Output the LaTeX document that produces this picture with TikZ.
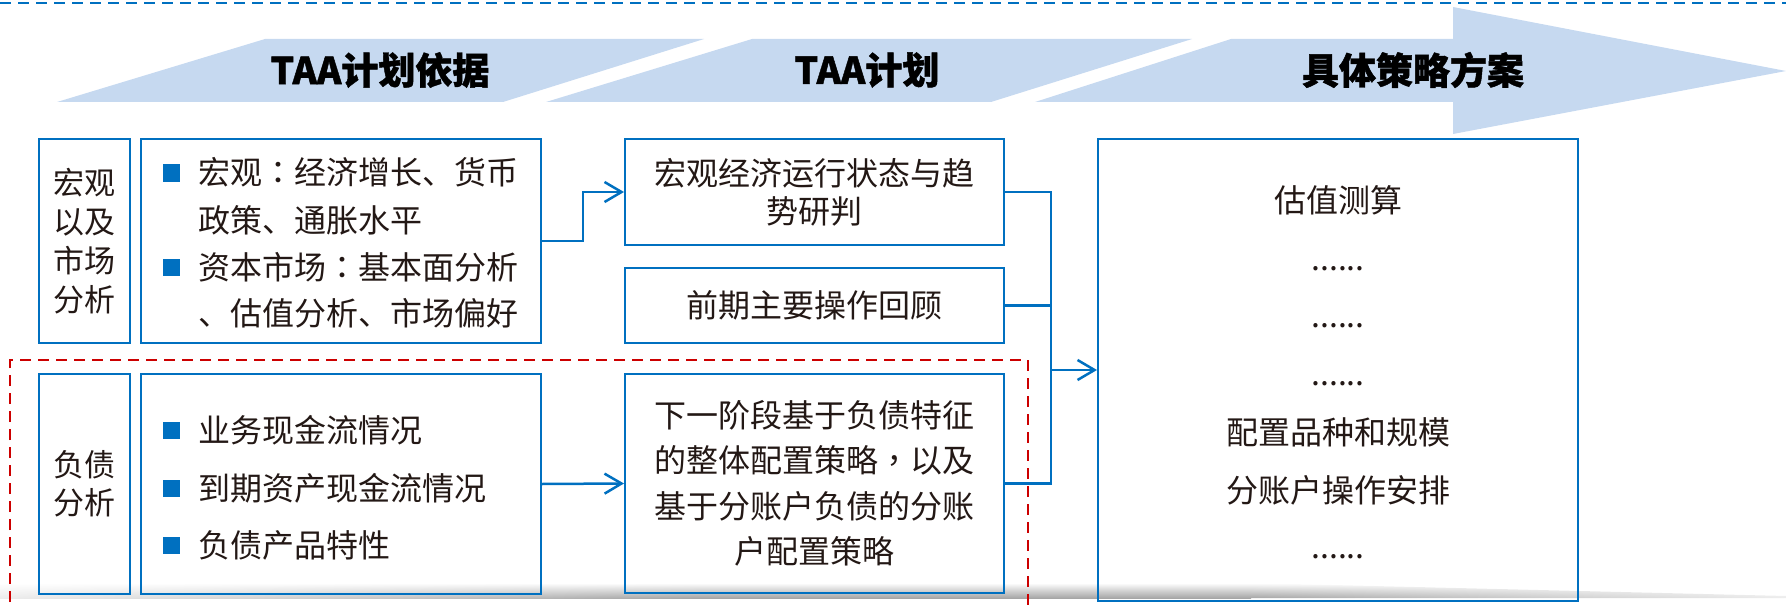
\documentclass[tikz,border=0pt]{standalone}
\usepackage{fontspec}
\setmainfont{Noto Sans CJK SC}
\newfontfamily\tcpunct{Noto Sans CJK TC}
\newfontfamily\headfont[BoldFeatures={FakeBold=1.2}]{Noto Sans CJK SC}
\newcommand{\cc}{{\tcpunct ：}}
\newcommand{\cm}{{\tcpunct ，}}
\usetikzlibrary{arrows.meta,calc,shadings}
\definecolor{lineblue}{RGB}{0,112,192}
\definecolor{chev}{RGB}{198,217,240}
\definecolor{txt}{RGB}{35,24,21}
\definecolor{redd}{RGB}{204,0,0}
\begin{document}
\begin{tikzpicture}[x=1pt,y=-1pt,
  box/.style={draw=lineblue, line width=2pt, inner sep=0pt, align=center, text=txt},
  conn/.style={draw=lineblue, line width=2.5pt, line join=miter},
  arr/.style={conn, -{Straight Barb[length=17pt,width=20pt]}},
  bul/.style={fill=lineblue, minimum size=17pt, inner sep=0pt},
  head/.style={font=\fontsize{37}{40}\selectfont\headfont\bfseries, text=black, inner sep=0pt},
  body/.style={font=\fontsize{32}{40}\selectfont, text=txt, inner sep=0pt},
]
\useasboundingbox (0,0) rectangle (1786,607);
\clip (0,0) rectangle (1786,607);
% top dashed rule
\draw[lineblue, line width=2.5pt, dash pattern=on 11pt off 7pt] (0,3) -- (1786,3);
% chevrons
\fill[chev] (57,102) -- (265,39) -- (704,39) -- (503,102) -- cycle;
\fill[chev] (546,102) -- (752,39) -- (1192,39) -- (991,102) -- cycle;
\fill[chev] (1035,102) -- (1231,39) -- (1453,39) -- (1453,7) -- (1786,71) -- (1453,134) -- (1453,102) -- cycle;
\node[head] (h1) at (380,70) {TAA计划依据};
\node[head] (h2) at (867,70) {TAA计划};
\node[head] (h3) at (1413,70) {具体策略方案};
% bottom shadow
\shade[upper left=white, upper right=white, lower left=gray!15, lower right=gray!70] (0,583) rectangle (700,598);
\shade[top color=white, bottom color=gray!70] (699,583) rectangle (1251,598);
\shade[upper left=white, upper right=white, lower left=gray!70, lower right=gray!15] (1250,583) -- (1786,596) -- (1786,598) -- (1250,598) -- cycle;
% boxes
\node[box, minimum width=91pt, minimum height=204pt, font=\fontsize{31}{39}\selectfont] (A) at (84.5,241) {宏观\\以及\\市场\\分析};
\node[box, minimum width=400pt, minimum height=204pt] (B) at (341,241) {};
\node[box, minimum width=379pt, minimum height=106pt, font=\fontsize{32}{38}\selectfont] (C) at (814.5,192) {宏观经济运行状态与趋\\势研判};
\node[box, minimum width=379pt, minimum height=75pt, font=\fontsize{32}{38}\selectfont] (D) at (814.5,305.5) {前期主要操作回顾};
\node[box, minimum width=91pt, minimum height=220pt, font=\fontsize{31}{38}\selectfont] (G1) at (84.5,484) {负债\\分析};
\node[box, minimum width=400pt, minimum height=220pt] (G2) at (341,484) {};
\node[box, minimum width=379pt, minimum height=219pt, font=\fontsize{32}{45.5}\selectfont] (F) at (814.5,483.5) {下一阶段基于负债特征\\的整体配置策略\cm 以及\\基于分账户负债的分账\\户配置策略};
\node[box, minimum width=480pt, minimum height=462pt] (E) at (1338,370) {};
% bullets in B
\node[bul] (bB1) at (171.5,173) {};
\node[bul] (bB2) at (171.5,267) {};
\node[body, anchor=base west] (tB1) at (198,185) {宏观\cc 经济增长、货币};
\node[body, anchor=base west] (tB2) at (198,232) {政策、通胀水平};
\node[body, anchor=base west] (tB3) at (198,279) {资本市场\cc 基本面分析};
\node[body, anchor=base west] (tB4) at (198,325) {、估值分析、市场偏好};
% bullets in G2
\node[bul] (bG1) at (171.5,430) {};
\node[bul] (bG2) at (171.5,488) {};
\node[bul] (bG3) at (171.5,545) {};
\node[body, anchor=base west] (tG1) at (198,442) {业务现金流情况};
\node[body, anchor=base west] (tG2) at (198,500) {到期资产现金流情况};
\node[body, anchor=base west] (tG3) at (198,557) {负债产品特性};
% lines in E
\node[body, anchor=base] (e1) at (1338,212) {估值测算};
\node[body, anchor=base] (e2) at (1338,270) {......};
\node[body, anchor=base] (e3) at (1338,327) {......};
\node[body, anchor=base] (e4) at (1338,385) {......};
\node[body, anchor=base] (e5) at (1338,444) {配置品种和规模};
\node[body, anchor=base] (e6) at (1338,502) {分账户操作安排};
\node[body, anchor=base] (e7) at (1338,558) {......};
% connectors
\coordinate (k) at (583,0);
\coordinate (j) at (1051,0);
\draw[arr] (B.east) -- (B.east -| k) |- (C.west);
\draw[conn] (C.east) -| (F.east -| j) -- (F.east);
\draw[conn] (D.east) -- (D.east -| j);
\draw[arr] (E.west -| j) -- (E.west);
\draw[arr] (G2.east) -- (F.west);
% red dashed frame
\draw[redd, line width=2pt, dash pattern=on 11pt off 7pt] (10,620) -- (10,360) -- (1028,360) -- (1028,620);
\end{tikzpicture}
\end{document}
